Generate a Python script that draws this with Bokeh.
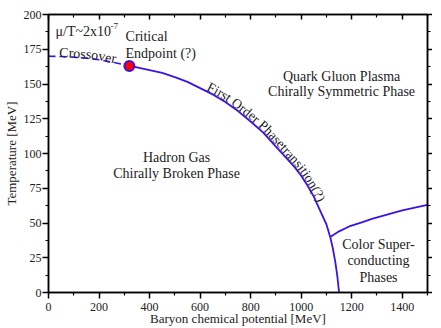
import numpy as np
from bokeh.plotting import figure
from bokeh.models import Range1d, LinearAxis, FixedTicker, Label, CustomLabelingPolicy
from bokeh.core.properties import value
from bokeh.embed import file_html
from bokeh.resources import INLINE

FONT = "Liberation Serif"
BLUE = "#3a14e6"
TXT = "#222222"

# ---- data ----
x_major = [0, 200, 400, 600, 800, 1000, 1200, 1400]
x_minor = [100, 300, 500, 700, 900, 1100, 1300, 1500]
y_major = [0, 25, 50, 75, 100, 125, 150, 175, 200]
y_minor = [12.5, 37.5, 62.5, 87.5, 112.5, 137.5, 162.5, 187.5]

cross_x = [0, 50, 100, 150, 200, 260, 320]
cross_y = [170, 169.8, 169.3, 168.6, 167.5, 165.5, 163]

first_x = [320, 350, 400, 450, 500, 550, 600, 650, 700, 750, 800, 850, 900,
           950, 975, 1000, 1025, 1050, 1080, 1100, 1115, 1125, 1135, 1143, 1150]
first_y = [163, 162, 160, 158, 155, 151.5, 147, 142.5, 137, 130.5, 123, 115, 105,
           95, 90, 84, 77, 69, 57, 49, 40, 32, 22, 12, 0]

csc_x = [1115, 1150, 1190, 1240, 1280, 1340, 1400, 1450, 1500]
csc_y = [40, 44, 47.5, 50.5, 53, 56, 59, 61, 63]

cep_x = [320]
cep_y = [163]

# approximate Times advance widths (1/1000 em) for placing text along curves
W = {'F': 556, 'i': 278, 'r': 333, 's': 389, 't': 278, ' ': 250, 'O': 722,
     'd': 500, 'e': 444, 'P': 556, 'h': 500, 'a': 444, 'n': 500, 'o': 500,
     '(': 333, '?': 444, ')': 333, 'C': 667, 'v': 500}

FW, FH = 379, 278
SX = FW / 1500.0
SY = FH / 200.0


def along(xs, ys, text, start_x, offset, size_px, spacing=1.0):
    px = np.array(xs, float) * SX
    py = np.array(ys, float) * SY
    d = np.hypot(np.diff(px), np.diff(py))
    cum = np.concatenate([[0.0], np.cumsum(d)])

    def pt(s):
        return np.interp(s, cum, px), np.interp(s, cum, py)

    s = float(np.interp(start_x * SX, px, cum))
    ox, oy, chars, angs = [], [], [], []
    for ch in text:
        w = W.get(ch, 500) / 1000.0 * size_px * spacing
        sc = s + w / 2
        x, y = pt(sc)
        x1, y1 = pt(sc - 5)
        x2, y2 = pt(sc + 5)
        tx, ty = x2 - x1, y2 - y1
        n = np.hypot(tx, ty)
        tx, ty = tx / n, ty / n
        nx, ny = -ty, tx
        ox.append((x + nx * offset) / SX)
        oy.append((y + ny * offset) / SY)
        chars.append(ch)
        angs.append(float(np.arctan2(ty, tx)))
        s += w
    return ox, oy, chars, angs


p = figure(width=432, height=328, output_backend="svg", toolbar_location=None,
           x_range=Range1d(0, 1500), y_range=Range1d(0, 200),
           min_border_left=48, min_border_right=5, min_border_top=14,
           min_border_bottom=36)
p.grid.visible = False
p.outline_line_color = "black"
p.outline_line_width = 1.5
p.background_fill_color = "white"
p.border_fill_color = "white"

for ax in (p.xaxis[0], p.yaxis[0]):
    ax.axis_line_width = 1.5
    ax.major_tick_line_width = 1.5
    ax.minor_tick_line_width = 1.2
    ax.major_tick_out = 6
    ax.major_tick_in = 0
    ax.minor_tick_out = 3
    ax.minor_tick_in = 0
    ax.major_label_text_font = FONT
    ax.major_label_text_font_size = "12px"
    ax.major_label_text_color = TXT
    ax.axis_label_text_font = FONT
    ax.axis_label_text_font_size = "13px"
    ax.axis_label_text_font_style = "normal"
    ax.axis_label_text_color = TXT

p.xaxis[0].ticker = FixedTicker(ticks=x_major, minor_ticks=x_minor)
p.yaxis[0].ticker = FixedTicker(ticks=y_major, minor_ticks=y_minor)
p.xaxis[0].major_label_standoff = 4
p.xaxis[0].axis_label_standoff = -3
p.yaxis[0].major_label_standoff = 1
p.yaxis[0].axis_label_standoff = 2
p.xaxis.axis_label = "Baryon chemical potential [MeV]"
p.yaxis.axis_label = "Temperature [MeV]"

NOLAB = "for (const i of Array.from(indices)) indices.unset(i); return indices"
top = LinearAxis(ticker=FixedTicker(ticks=x_major, minor_ticks=x_minor),
                 major_label_policy=CustomLabelingPolicy(code=NOLAB),
                 major_label_text_font_size="0px", major_label_standoff=0,
                 major_tick_in=5, major_tick_out=0, minor_tick_in=3, minor_tick_out=0,
                 axis_line_width=1.5, major_tick_line_width=1.5, minor_tick_line_width=1.2)
right = LinearAxis(ticker=FixedTicker(ticks=y_major, minor_ticks=y_minor),
                   major_label_policy=CustomLabelingPolicy(code=NOLAB),
                   major_label_text_font_size="0px", major_label_standoff=0,
                   major_tick_in=0, major_tick_out=5, minor_tick_in=0, minor_tick_out=3,
                   axis_line_width=1.5, major_tick_line_width=1.5, minor_tick_line_width=1.2)
p.add_layout(top, "above")
p.add_layout(right, "right")

# curves
p.line(cross_x, cross_y, line_color=BLUE, line_width=1.6, line_dash="7 4")
p.line(first_x, first_y, line_color=BLUE, line_width=1.8)
p.line(csc_x, csc_y, line_color=BLUE, line_width=1.8)
p.scatter(cep_x, cep_y, size=10, fill_color="red", line_color=BLUE, line_width=2)

# curved texts
fx, fy, fc, fa = along(first_x, first_y, "First Order Phasetransition(?)", 622, 5.5, 13.5)
p.text(x=fx, y=fy, text=fc, angle=fa, angle_units="rad", text_align="center",
       text_baseline="alphabetic", text_font=value(FONT), text_font_size="13.5px",
       text_color=TXT)
cx, cy, cc, ca = along(cross_x, cross_y, "Crossover", 42, 4, 14)
p.text(x=cx, y=cy, text=cc, angle=ca, angle_units="rad", text_align="center",
       text_baseline="alphabetic", text_font=value(FONT), text_font_size="14px",
       text_color=TXT)


def lab(x, y, t, align="center", size="14px", baseline="middle"):
    p.add_layout(Label(x=x, y=y, text=t, text_align=align, text_baseline=baseline,
                       text_font=FONT, text_font_size=size, text_color=TXT))


lab(1160, 155.6, "Quark Gluon Plasma")
lab(1160, 144.4, "Chirally Symmetric Phase")
lab(507, 96.8, "Hadron Gas")
lab(507, 85.3, "Chirally Broken Phase")
lab(1306, 34.4, "Color Super-")
lab(1306, 22.9, "conducting")
lab(1306, 10.8, "Phases")
lab(305, 184.2, "Critical", align="left")
lab(305, 172.0, "Endpoint (?)", align="left")
lab(28, 187.8, "μ/T~2x10", align="left")
lab(245, 191.5, "-7", align="left", size="9px")

open("out.html", "w").write(file_html(p, INLINE))
